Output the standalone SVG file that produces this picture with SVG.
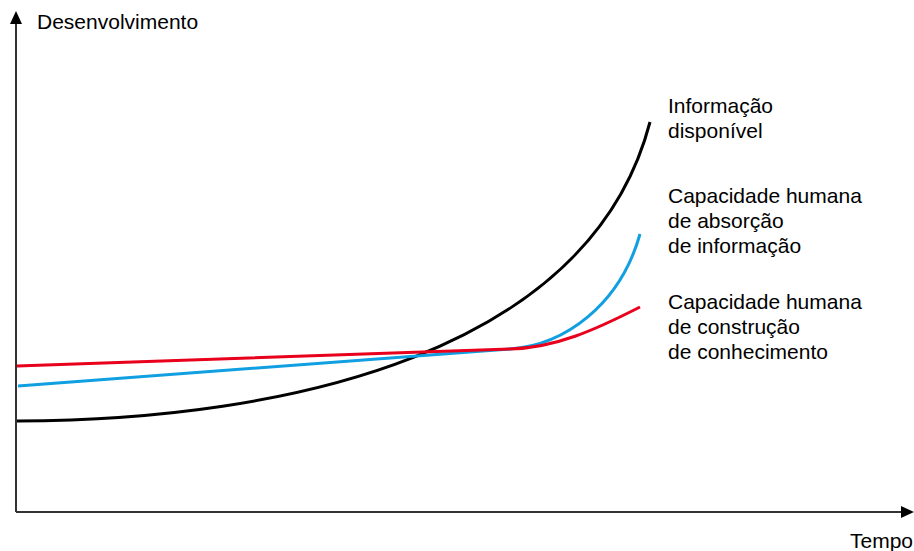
<svg xmlns="http://www.w3.org/2000/svg" width="914" height="551" viewBox="0 0 914 551">
<style>
.t{font-family:"Liberation Sans",Arial,sans-serif;font-size:21px;fill:#000}
.ax{stroke:#333;stroke-width:2;fill:none}
.c{fill:none;stroke-width:3;stroke-linecap:butt}
</style>
<g id="axes">
<line class="ax" x1="16" y1="512" x2="16" y2="22"/>
<path d="M10,24 L16,11 L22,24 z" fill="#000"/>
<line class="ax" x1="16" y1="512" x2="902" y2="512"/>
<path d="M901,506 L914,512 L901,518 z" fill="#000"/>
</g>
<g id="connectors">
<path id="black" class="c" stroke="#000" d="M17,421 C290,420 590,352 650,122"/>
<path id="blue" class="c" stroke="#109fe0" d="M18,386 L510,349 C565,345 620,305 640,234"/>
<path id="red" class="c" stroke="#e8001c" d="M17,366 L510,349 C555,348 595,330 640,307"/>
</g>
<g id="labels">
<text class="t" x="37" y="29">Desenvolvimento</text>
<text class="t" x="850" y="548">Tempo</text>
<text class="t" x="668" y="113">Informação</text>
<text class="t" x="668" y="138">disponível</text>
<text class="t" x="668" y="203">Capacidade humana</text>
<text class="t" x="668" y="228">de absorção</text>
<text class="t" x="668" y="253">de informação</text>
<text class="t" x="668" y="309">Capacidade humana</text>
<text class="t" x="668" y="334">de construção</text>
<text class="t" x="668" y="359">de conhecimento</text>
</g>
</svg>
